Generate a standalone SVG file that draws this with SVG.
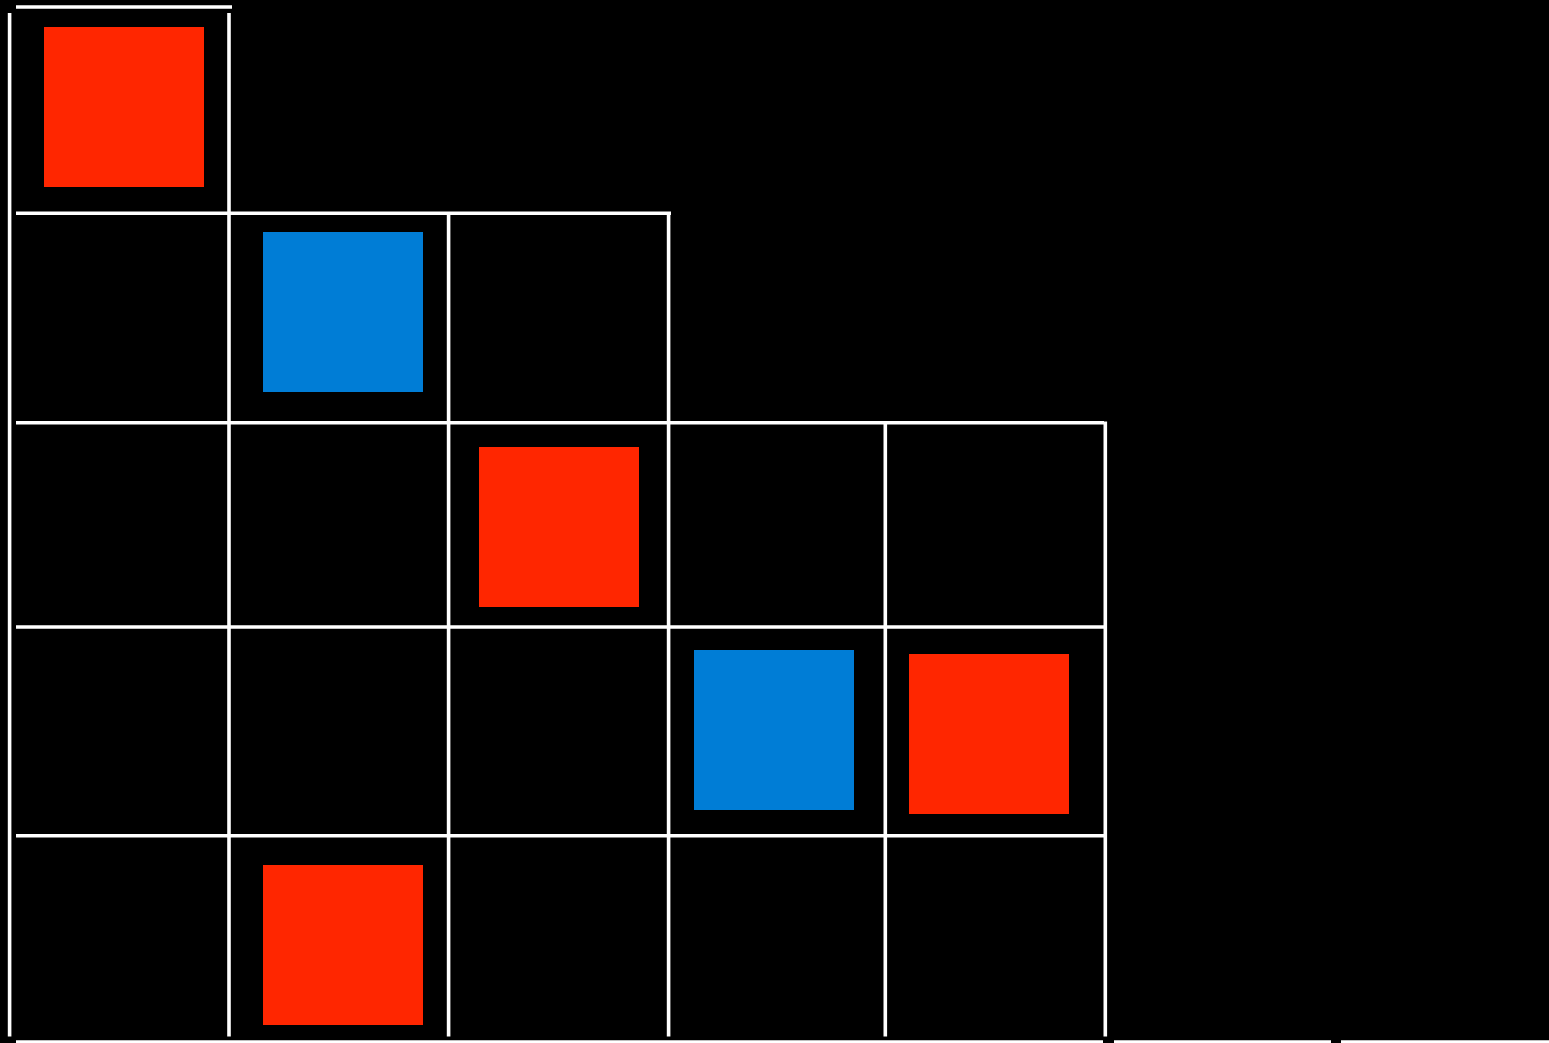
<svg xmlns="http://www.w3.org/2000/svg" width="1549" height="1043" viewBox="0 0 1549 1043">
<style>
.g{stroke:#ffffff;stroke-width:3.6;fill:none;stroke-linecap:butt}
.r{fill:#ff2600}
.b{fill:#007dd6}
</style>
<rect x="0" y="0" width="1549" height="1043" fill="#000000"/>
<g id="grid" class="g">
<line x1="16" y1="7" x2="232" y2="7"/>
<line x1="16" y1="213.3" x2="671" y2="213.3"/>
<line x1="16" y1="422.7" x2="1104" y2="422.7"/>
<line x1="16" y1="627" x2="1104" y2="627"/>
<line x1="16" y1="835.8" x2="1104" y2="835.8"/>
<line x1="16" y1="1042" x2="1103" y2="1042"/>
<line x1="1114" y1="1042" x2="1331" y2="1042"/>
<line x1="1341" y1="1042" x2="1549" y2="1042"/>
<line x1="9.6" y1="13" x2="9.6" y2="1036.5"/>
<line x1="229" y1="13" x2="229" y2="1036.5"/>
<line x1="448.6" y1="213" x2="448.6" y2="1036.5"/>
<line x1="668.6" y1="212" x2="668.6" y2="1036.5"/>
<line x1="885.3" y1="422.7" x2="885.3" y2="1036.5"/>
<line x1="1105.3" y1="421.5" x2="1105.3" y2="1036.5"/>
</g>
<g id="node1"><rect class="r" x="44" y="27" width="160" height="160"/></g>
<g id="node2"><rect class="b" x="263" y="232" width="160" height="160"/></g>
<g id="node3"><rect class="r" x="479" y="447" width="160" height="160"/></g>
<g id="node4"><rect class="b" x="694" y="650" width="160" height="160"/></g>
<g id="node5"><rect class="r" x="909" y="654" width="160" height="160"/></g>
<g id="node6"><rect class="r" x="263" y="865" width="160" height="160"/></g>
</svg>
